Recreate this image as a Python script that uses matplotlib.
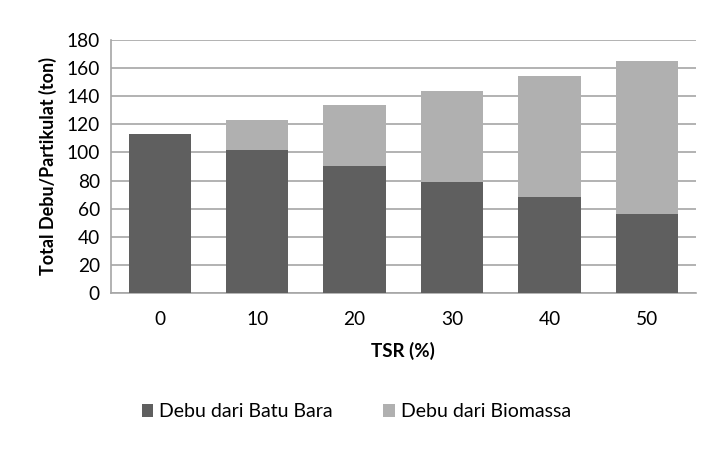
import matplotlib.pyplot as plt
import numpy as np

plt.rcParams['font.family'] = ['Lato', 'DejaVu Sans']

# data
tsr = ['0', '10', '20', '30', '40', '50']
batu_bara = [113, 102, 90.5, 79, 68, 56]
biomassa = [0, 21, 43, 65, 86.5, 109]

c_dark = '#5f5f5f'
c_light = '#b0b0b0'
c_grid = '#a6a6a6'

fig = plt.figure(figsize=(7.27, 4.49), dpi=100)
ax = fig.add_axes([0.1527, 0.3474, 0.8043, 0.5636])

x = np.arange(len(tsr))
ax.bar(x, batu_bara, width=0.64, color=c_dark, label='Debu dari Batu Bara', zorder=3)
ax.bar(x, biomassa, width=0.64, bottom=batu_bara, color=c_light,
       label='Debu dari Biomassa', zorder=3)

ax.set_xlim(-0.5, len(tsr) - 0.5)
ax.set_ylim(0, 180)
ax.set_yticks(np.arange(0, 181, 20))
ax.set_xticks(x)
ax.set_xticklabels(tsr)
ax.grid(axis='y', color=c_grid, linewidth=1.2, zorder=0)
ax.tick_params(length=0, labelsize=13.8, colors='black', pad=8)
ax.tick_params(axis='x', pad=13)

for s in ['top', 'right']:
    ax.spines[s].set_visible(False)
ax.spines['left'].set_color(c_grid)
ax.spines['bottom'].set_color(c_grid)
ax.spines['left'].set_linewidth(1.2)
ax.spines['bottom'].set_linewidth(1.2)

ax.set_ylabel('Total Debu/Partikulat (ton)', fontsize=13, fontweight='bold', labelpad=7)
ax.set_xlabel('TSR (%)', fontsize=13.5, fontweight='bold', labelpad=10)

fig.legend(loc='center', bbox_to_anchor=(0.49, 0.083), ncol=2, frameon=False,
           fontsize=14, handlelength=0.6, handleheight=0.6, handletextpad=0.3,
           columnspacing=2.6)

fig.savefig('out.png', dpi=100)
